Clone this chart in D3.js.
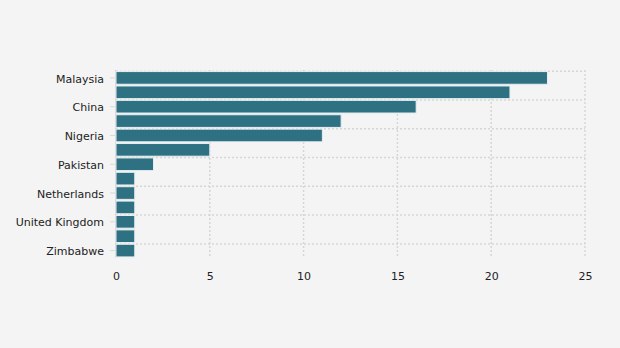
<!DOCTYPE html>
<html><head><meta charset="utf-8">
<script src="https://cdn.jsdelivr.net/npm/d3@7"></script>
<style>body{margin:0;background:#f4f4f4;}svg{display:block;font-family:"DejaVu Sans",Verdana,sans-serif;}</style>
</head><body><div id="chart"></div>
<script>
const categories = ["Malaysia","Indonesia","China","India","Nigeria","Thailand","Pakistan","Bangladesh","Netherlands","Germany","United Kingdom","United States","Zimbabwe"];
const values = [23,21,16,12,11,5,2,1,1,1,1,1,1];
const shownLabels = ["Malaysia","China","Nigeria","Pakistan","Netherlands","United Kingdom","Zimbabwe"];
const xTicks = [0,5,10,15,20,25];

const W=620,H=348;
const svg=d3.select("#chart").append("svg").attr("width",W).attr("height",H);
svg.append("rect").attr("width",W).attr("height",H).attr("fill","#f4f4f4");
const x=d3.scaleLinear().domain([0,25]).range([116,585]);
const y=d3.scaleBand().domain(categories).range([71,257.5]).paddingInner(0.12).paddingOuter(0.04);
const gap=(y.step()-y.bandwidth())/2;
const grid=svg.append("g").attr("stroke","#d6d6d6").attr("stroke-width",1.5).attr("stroke-dasharray","2,2");
grid.selectAll(".v").data(xTicks.slice(1)).join("line")
 .attr("x1",d=>x(d)).attr("x2",d=>x(d)).attr("y1",70).attr("y2",257.5);
grid.selectAll(".h").data(shownLabels).join("line")
 .attr("x1",116).attr("x2",585).attr("y1",d=>y(d)-gap+0.5).attr("y2",d=>y(d)-gap+0.5);
svg.append("line").attr("x1",115.5).attr("x2",115.5).attr("y1",70).attr("y2",257.5).attr("stroke","#cfcfcf").attr("stroke-width",1);
svg.append("g").selectAll("rect").data(categories).join("rect")
 .attr("x",x(0)).attr("y",d=>y(d)).attr("height",y.bandwidth())
 .attr("width",(d,i)=>x(values[i])-x(0))
 .attr("fill","#2e7183").attr("stroke","#e8eef0").attr("stroke-width",1);
const ya=d3.axisLeft(y).tickValues(shownLabels).tickSize(5).tickPadding(6);
const gy=svg.append("g").attr("transform","translate(115,0)").call(ya);
gy.select(".domain").remove();
gy.selectAll(".tick line").attr("stroke","#d8d8d8");
gy.selectAll("text").attr("font-size","11px").attr("fill","#222").attr("dy","0.42em").attr("font-family","DejaVu Sans, sans-serif");
const xa=d3.axisBottom(x).tickValues(xTicks).tickSize(0).tickPadding(0);
const gx=svg.append("g").attr("transform","translate(0,272)").call(xa);
gx.select(".domain").remove();
gx.selectAll("text").attr("font-size","11px").attr("fill","#222").attr("font-family","DejaVu Sans, sans-serif");
</script></body></html>
